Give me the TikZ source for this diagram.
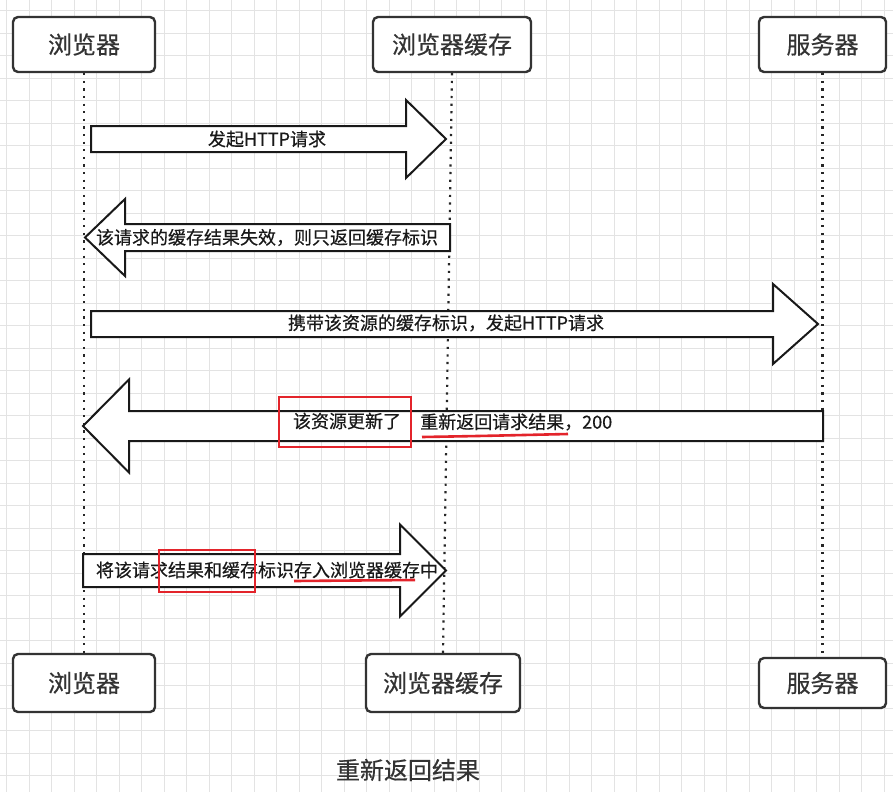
\documentclass[tikz,border=0pt]{standalone}
\usepackage{fontspec}
\setmainfont{Noto Sans CJK SC}[FakeBold=0.5]
\usetikzlibrary{positioning}
\definecolor{boxgray}{HTML}{333333}
\definecolor{gridgray}{HTML}{E3E3E3}
\definecolor{markred}{HTML}{E3242B}
% start x, tip x, y, body half, head half, signed head length
\newcommand{\blockarrow}[6]{%
  \draw[arrowshape] ({#1},{#3-#4}) -- ({#2-(#6)},{#3-#4}) -- ({#2-(#6)},{#3-#5}) -- ({#2},{#3})
    -- ({#2-(#6)},{#3+#5}) -- ({#2-(#6)},{#3+#4}) -- ({#1},{#3+#4}) -- cycle;}

\begin{document}
\begin{tikzpicture}[
  x=1pt, y=-1pt,
  actor/.style={rectangle, rounded corners=5pt, draw=boxgray, line width=2.4pt, fill=white, text=boxgray, font=\fontsize{24}{28}\selectfont},
  lifeline/.style={line width=2.2pt, dash pattern=on 2.2pt off 5.4pt, draw=black!85},
  arrowshape/.style={draw=black!90, line width=2pt, fill=white, line join=miter},
  msg/.style={inner sep=0pt, text=black!90, font=\fontsize{18}{21}\selectfont},
  redmark/.style={draw=markred, line width=2.6pt},
  gridline/.style={draw=gridgray, line width=0.8pt}
]
\useasboundingbox (0,0) rectangle (893,792);
\fill[white] (0,0) rectangle (893,792);
\foreach \gx in {6.5,29,...,893} \draw[gridline] (\gx,0) -- (\gx,792);
\foreach \gy in {10.5,33,...,792} \draw[gridline] (0,\gy) -- (893,\gy);

% actors
\node[actor, minimum width=142pt, minimum height=55pt] (browserTop) at (84,44.5) {浏览器};
\node[actor, minimum width=158pt, minimum height=55pt] (cacheTop) at (452,44.5) {浏览器缓存};
\node[actor, minimum width=127pt, minimum height=55pt] (serverTop) at (822.5,44.5) {服务器};
\node[actor, minimum width=142pt, minimum height=58pt] (browserBot) at (84,683) {浏览器};
\node[actor, minimum width=154pt, minimum height=58pt] (cacheBot) at (443,683) {浏览器缓存};
\node[actor, minimum width=127pt, minimum height=50pt] (serverBot) at (822.5,683) {服务器};

\draw[lifeline] (browserTop.south) -- (browserBot.north);
\draw[lifeline] (cacheTop.south) -- (cacheBot.north);
\draw[lifeline] (serverTop.south) -- (serverBot.north);

% messages
\blockarrow{91}{446}{139}{13}{39}{40}
\node[msg] (reqA) at (267,139) {发起HTTP请求};

\blockarrow{450}{85}{237.5}{13.5}{38.5}{-40}
\node[msg] (expired) at (267,237.5) {该请求的缓存结果失效，则只返回缓存标识};

\blockarrow{91}{818}{324}{13}{40}{45}
\node[msg] (reqB) at (446,323) {携带该资源的缓存标识，发起HTTP请求};

\blockarrow{823}{83}{426}{15}{46.5}{-46}
\node[msg] (updated) at (347,421) {该资源更新了};
\node[msg, anchor=west] (resend) at (420,422) {重新返回请求结果，200};
\draw[redmark] (279,397) rectangle (411,447);
\draw[redmark] (422,437) .. controls (480,436) .. (568,434);

\blockarrow{83}{446}{570.5}{16.5}{46}{46}
\node[msg] (store) at (267,570) {将该请求结果和缓存标识存入浏览器缓存中};
\draw[redmark] (159,550) rectangle (255,592);
\draw[redmark] (294,581) -- (415,580);

\node[text=boxgray, font=\fontsize{24}{28}\selectfont] (caption) at (408,770) {重新返回结果};
\end{tikzpicture}
\end{document}
